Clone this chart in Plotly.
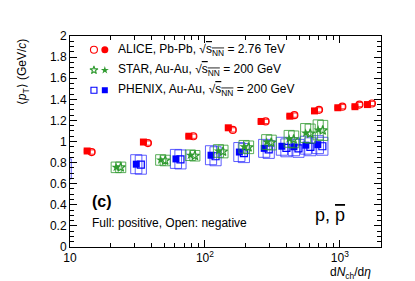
import plotly.graph_objects as go

# ---------------- data ----------------
alice_x = [13.4, 35, 76, 149, 261, 426, 649, 966, 1294, 1601]
alice_pos = [0.91, 0.995, 1.05, 1.13, 1.19, 1.24, 1.29, 1.32, 1.33, 1.35]
alice_neg = [0.90, 0.985, 1.05, 1.11, 1.19, 1.25, 1.30, 1.33, 1.35, 1.36]
alice_sys = [0.02, 0.02, 0.02, 0.02, 0.02, 0.02, 0.02, 0.02, 0.02, 0.02]

star_x = [22, 47, 78, 126, 195, 287, 421, 558, 691]
star_pos = [0.755, 0.825, 0.87, 0.91, 0.95, 0.995, 1.025, 1.08, 1.11]
star_neg = [0.755, 0.82, 0.865, 0.905, 0.945, 0.99, 1.02, 1.075, 1.105]
star_sys = [0.05, 0.05, 0.05, 0.06, 0.06, 0.07, 0.08, 0.09, 0.095]

phenix_x = [8.6, 31, 61, 111, 180, 275, 372, 457, 560, 687]
phenix_pos = [0.745, 0.785, 0.835, 0.87, 0.90, 0.935, 0.955, 0.95, 0.965, 0.97]
phenix_neg = [0.74, 0.78, 0.83, 0.86, 0.89, 0.925, 0.94, 0.935, 0.95, 0.955]
phenix_sys = [0.095, 0.09, 0.09, 0.09, 0.09, 0.085, 0.085, 0.085, 0.085, 0.085]

x_ticks = [10, 100, 1000]
x_ticktext = ["10", "10<sup>2</sup>", "10<sup>3</sup>"]

# ---------------- style ----------------
RED = "#ff0000"
GREEN = "#2f9a2f"
BLUE = "#0000ff"
FONT = "Liberation Sans, Arial, sans-serif"
NEG_SHIFT = 1.08


def boxes(xs, ys, dy, f):
    bx, by = [], []
    for x, y, d in zip(xs, ys, dy):
        bx += [x / f, x * f, x * f, x / f, x / f, None]
        by += [y - d, y - d, y + d, y + d, y - d, None]
    return bx, by


def shifted(xs):
    return [x * NEG_SHIFT for x in xs]


fig = go.Figure()


def add_series(xs, pos, neg, sys, color, boxcolor, f, sym_full, sym_open, msize):
    bx, by = boxes(xs, pos, sys, f)
    fig.add_trace(go.Scatter(x=bx, y=by, mode="lines", line=dict(color=boxcolor, width=1),
                             showlegend=False, hoverinfo="skip"))
    bx, by = boxes(shifted(xs), neg, sys, f)
    fig.add_trace(go.Scatter(x=bx, y=by, mode="lines", line=dict(color=boxcolor, width=1),
                             showlegend=False, hoverinfo="skip"))
    fig.add_trace(go.Scatter(x=shifted(xs), y=neg, mode="markers",
                             marker=dict(symbol=sym_open, size=msize, color=color,
                                         line=dict(color=color, width=1.2)),
                             showlegend=False, cliponaxis=True))
    fig.add_trace(go.Scatter(x=xs, y=pos, mode="markers",
                             marker=dict(symbol=sym_full, size=msize, color=color,
                                         line=dict(width=0)),
                             showlegend=False, cliponaxis=True))


add_series(phenix_x, phenix_pos, phenix_neg, phenix_sys, BLUE, "rgba(40,40,255,0.75)", 1.10,
           "square", "square-open", 7)
add_series(star_x, star_pos, star_neg, star_sys, GREEN, "rgba(47,154,47,0.8)", 1.09,
           "star", "star-open", 7)
add_series(alice_x, alice_pos, alice_neg, alice_sys, RED, "rgba(255,0,0,0.8)", 1.05,
           "square", "circle-open", 7)

# legend keys on an overlay axis (paper-like 0..1)
leg_y = [0.935, 0.838, 0.743]
leg_specs = [(RED, "circle-open", "circle", 7), (GREEN, "star-open", "star", 6),
             (BLUE, "square-open", "square", 6)]
for yy, (c, so, sf, ms) in zip(leg_y, leg_specs):
    fig.add_trace(go.Scatter(x=[0.077], y=[yy], xaxis="x2", yaxis="y2", mode="markers",
                             marker=dict(symbol=so, size=ms, color=c, line=dict(color=c, width=1.1)),
                             showlegend=False, hoverinfo="skip"))
    fig.add_trace(go.Scatter(x=[0.112], y=[yy], xaxis="x2", yaxis="y2", mode="markers",
                             marker=dict(symbol=sf, size=ms, color=c, line=dict(width=0)),
                             showlegend=False, hoverinfo="skip"))

sq = "√<span style='text-decoration:overline'>s<sub>NN</sub></span>"
leg_text = [f"ALICE, Pb-Pb, {sq} = 2.76 TeV",
            f"STAR, Au-Au, {sq} = 200 GeV",
            f"PHENIX, Au-Au, {sq} = 200 GeV"]

annotations = []
for yy, t in zip(leg_y, leg_text):
    annotations.append(dict(x=0.147, y=yy, xref="paper", yref="paper", text=t,
                            showarrow=False, xanchor="left", yanchor="middle",
                            font=dict(family=FONT, size=12, color="black")))

annotations += [
    dict(x=0.065, y=0.215, xref="paper", yref="paper", text="<b>(c)</b>", showarrow=False,
         xanchor="left", yanchor="middle", font=dict(family=FONT, size=16, color="black")),
    dict(x=0.065, y=0.115, xref="paper", yref="paper", text="Full: positive, Open: negative",
         showarrow=False, xanchor="left", yanchor="middle",
         font=dict(family=FONT, size=12, color="black")),
    dict(x=0.89, y=0.15, xref="paper", yref="paper",
         text="p, <span style='text-decoration:overline'>p</span>", showarrow=False,
         xanchor="right", yanchor="middle", font=dict(family=FONT, size=18, color="black")),
    dict(x=-0.152, y=1.0, xref="paper", yref="paper",
         text="⟨<i>p</i><sub>T</sub>⟩ (GeV/<i>c</i>)", textangle=-90, showarrow=False,
         xanchor="center", yanchor="top", font=dict(family=FONT, size=12, color="black")),
    dict(x=0.975, y=-0.125, xref="paper", yref="paper",
         text="d<i>N</i><sub>ch</sub>/d<i>η</i>", showarrow=False,
         xanchor="right", yanchor="middle", font=dict(family=FONT, size=12, color="black")),
]

minor_x = [m * d for d in (10, 100, 1000) for m in range(2, 10)]

fig.update_layout(
    width=415, height=281,
    margin=dict(l=62, r=42, t=28, b=42),
    paper_bgcolor="white", plot_bgcolor="white",
    showlegend=False,
    font=dict(family=FONT, size=12, color="black"),
    xaxis=dict(type="log", range=[1, 3.305], showgrid=False, zeroline=False,
               showline=True, linecolor="black", linewidth=1, mirror="allticks",
               ticks="inside", ticklen=7, tickcolor="black",
               tickmode="array", tickvals=x_ticks, ticktext=x_ticktext,
               tickfont=dict(family=FONT, size=12, color="black"),
               minor=dict(ticks="inside", ticklen=4, tickcolor="black",
                          tickmode="array", tickvals=minor_x, showgrid=False)),
    yaxis=dict(range=[0, 2], showgrid=False, zeroline=False,
               showline=True, linecolor="black", linewidth=1, mirror="allticks",
               ticks="inside", ticklen=7, tickcolor="black", dtick=0.2, tick0=0,
               tickfont=dict(family=FONT, size=12, color="black"),
               minor=dict(ticks="inside", ticklen=4, tickcolor="black", dtick=0.05,
                          showgrid=False)),
    xaxis2=dict(overlaying="x", range=[0, 1], visible=False, domain=[0, 1]),
    yaxis2=dict(overlaying="y", range=[0, 1], visible=False),
    annotations=annotations,
)

fig.write_html("out.html")
